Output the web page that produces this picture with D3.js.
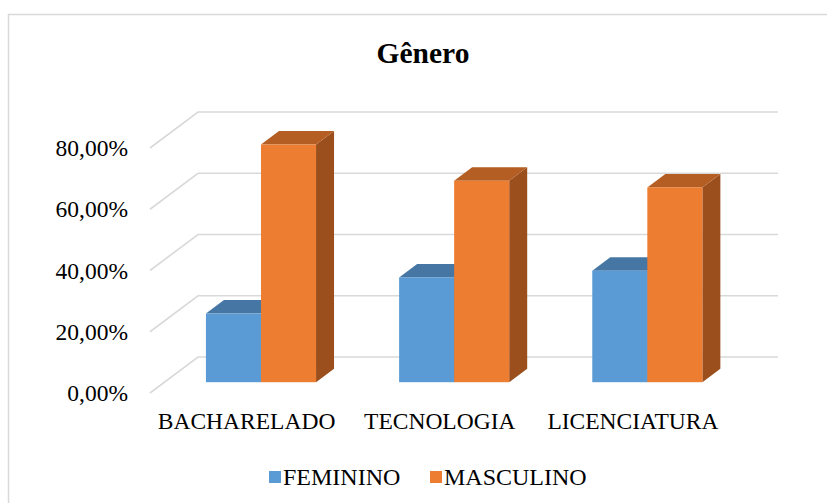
<!DOCTYPE html>
<html>
<head>
<meta charset="utf-8">
<script src="https://cdn.jsdelivr.net/npm/d3@7"></script>
<style>
  html, body { margin: 0; padding: 0; background: #fff; }
  svg { display: block; }
</style>
</head>
<body>
<svg id="chart" width="827" height="503"></svg>
<script>
// Data
const categories = ["BACHARELADO", "TECNOLOGIA", "LICENCIATURA"];
const seriesNames = ["FEMININO", "MASCULINO"];
const feminino = [0.224, 0.342, 0.364];
const masculino = [0.776, 0.658, 0.636];
const yTicks = [0, 0.2, 0.4, 0.6, 0.8];
const title = "Gênero";

const seriesValues = [feminino, masculino];
const colors = {
  FEMININO:  { front: "#5B9BD5", top: "#4677A4", side: "#3F6D97" },
  MASCULINO: { front: "#ED7D31", top: "#B55E23", side: "#9A4F1D" }
};

const svg = d3.select("#chart");
const font = "'Liberation Serif', 'Times New Roman', serif";

// Outer chart border
svg.append("rect")
  .attr("x", 8.5).attr("y", 14.5)
  .attr("width", 840).attr("height", 500)
  .attr("fill", "none").attr("stroke", "#d9d9d9").attr("stroke-width", 1.5);

// 3D oblique projection: depth z in [0,1] shifts right and up
const DEPTH_X = 48, DEPTH_Y = -36;
const proj = (x, y, z) => [x + DEPTH_X * z, y + DEPTH_Y * z];

// Scales on the front plane (z = 0)
const y = d3.scaleLinear().domain([0, 0.8]).range([393, 148]);
const x0 = d3.scaleBand().domain(categories).range([150, 729.5])
  .paddingInner(0.43).paddingOuter(0.215);
const x1 = d3.scaleBand().domain(seriesNames).range([0, x0.bandwidth()]);

// Gridlines: diagonal on the side wall, horizontal on the back wall
const grid = svg.append("g");
yTicks.forEach(t => {
  const a = proj(150, y(t), 0);
  const b = proj(150, y(t), 1);
  const c = [778, b[1]];
  grid.append("polyline")
    .attr("points", [a, b, c].map(p => p.join(",")).join(" "))
    .attr("fill", "none").attr("stroke", "#d9d9d9").attr("stroke-width", 1.6);
});

// Y axis labels
const fmt = v => d3.format(".2f")(v * 100).replace(".", ",") + "%";
svg.append("g").selectAll("text").data(yTicks).join("text")
  .attr("x", 128).attr("y", d => y(d)).attr("dy", "0.35em")
  .attr("text-anchor", "end")
  .attr("font-family", font).attr("font-size", 23.5).attr("fill", "#000")
  .text(fmt);

// Bars as prisms between depth z0 and z1
const z0 = 0.3, z1 = 0.675;
const bars = svg.append("g");
categories.forEach((cat, i) => {
  seriesNames.forEach((s, j) => {
    const v = seriesValues[j][i];
    const xl = x0(cat) + x1(s), xr = xl + x1.bandwidth();
    const yt = y(v), yb = y(0);
    const c = colors[s];
    const pts = arr => arr.map(p => p.join(",")).join(" ");
    // right side face
    bars.append("polygon")
      .attr("points", pts([proj(xr, yt, z0), proj(xr, yt, z1), proj(xr, yb, z1), proj(xr, yb, z0)]))
      .attr("fill", c.side);
    // top face
    bars.append("polygon")
      .attr("points", pts([proj(xl, yt, z0), proj(xl, yt, z1), proj(xr, yt, z1), proj(xr, yt, z0)]))
      .attr("fill", c.top);
    // front face
    const f = proj(xl, yt, z0);
    bars.append("rect")
      .attr("x", f[0]).attr("y", f[1])
      .attr("width", xr - xl).attr("height", yb - yt)
      .attr("fill", c.front);
  });
});

// Category labels
svg.append("g").selectAll("text").data(categories).join("text")
  .attr("x", d => x0(d) + x0.bandwidth() / 2).attr("y", 429)
  .attr("text-anchor", "middle")
  .attr("font-family", font).attr("font-size", 23.5).attr("fill", "#000")
  .text(d => d);

// Title
svg.append("text")
  .attr("x", 423).attr("y", 63).attr("text-anchor", "middle")
  .attr("font-family", font).attr("font-size", 29.5).attr("font-weight", "bold")
  .attr("fill", "#000").text(title);

// Legend
const legendX = [269, 430];
const legend = svg.append("g");
seriesNames.forEach((s, j) => {
  legend.append("rect")
    .attr("x", legendX[j]).attr("y", 471).attr("width", 12).attr("height", 12)
    .attr("fill", colors[s].front);
  legend.append("text")
    .attr("x", legendX[j] + 14).attr("y", 485)
    .attr("font-family", font).attr("font-size", 24).attr("fill", "#000")
    .text(s);
});
</script>
</body>
</html>
